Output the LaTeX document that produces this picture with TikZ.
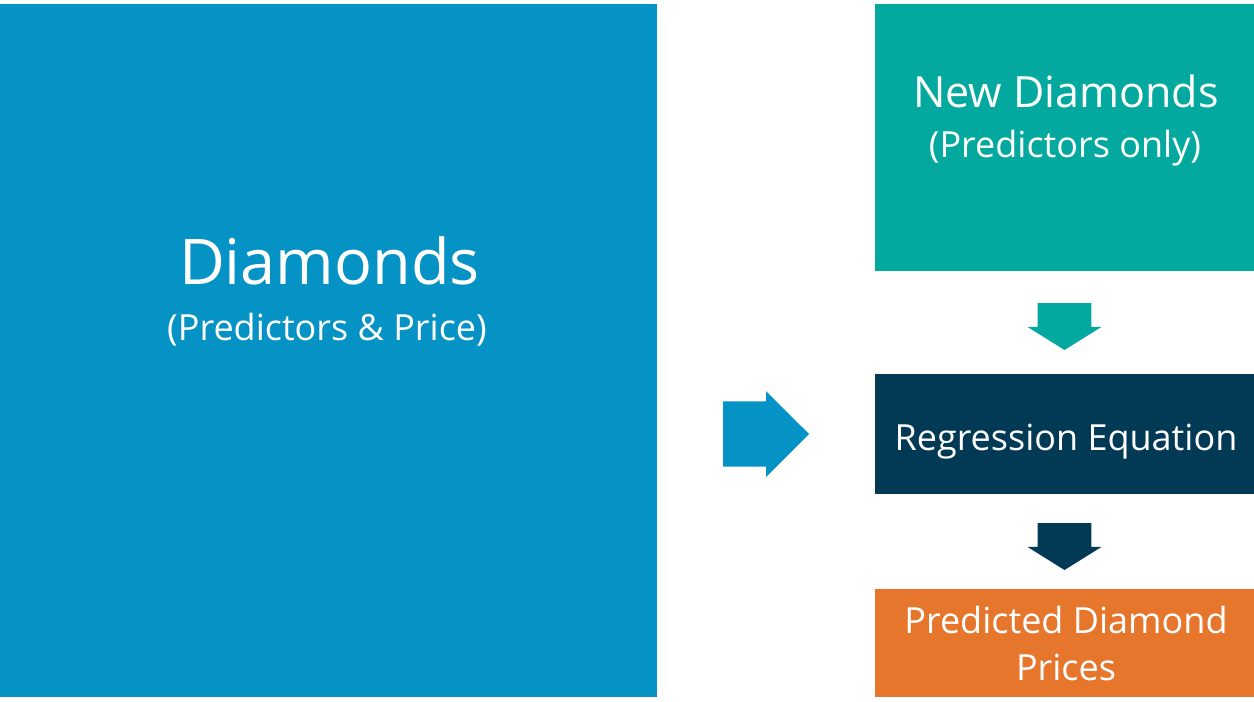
\documentclass[tikz,border=0pt]{standalone}
\usepackage{fontspec}
\setmainfont{Open Sans}
\usetikzlibrary{positioning}
\usetikzlibrary{calc}
\usetikzlibrary{shapes.arrows}
\definecolor{diablue}{RGB}{5,147,198}
\definecolor{newteal}{RGB}{3,168,158}
\definecolor{eqnavy}{RGB}{2,57,85}
\definecolor{priceorange}{RGB}{230,118,44}
\tikzset{box/.style = {rectangle, inner sep=0pt, outer sep=0pt}}
\tikzset{boxtext/.style = {text=white, anchor=base, inner sep=0pt}}
\tikzset{blockarrow/.style = {single arrow, inner xsep=0pt, outer sep=0pt,
                              single arrow head indent=0pt, anchor=tip}}
\newcommand{\bigfont}{\fontsize{63}{72}\selectfont}
\newcommand{\midfont}{\fontsize{43}{48}\selectfont}
\newcommand{\smallfont}{\fontsize{36}{47}\selectfont}

\begin{document}
\begin{tikzpicture}[x=1pt, y=-1pt]
    \useasboundingbox (0, 0) rectangle (1254, 702);
    % boxes
    \node [box, fill=diablue, minimum width=657pt, minimum height=693pt] (diamonds) at (328.5, 350.5) {};
    \node [box, fill=newteal, minimum width=379pt, minimum height=267pt] (newdia) at (1064.5, 137.5) {};
    \node [box, fill=eqnavy, minimum width=379pt, minimum height=120pt] (regeq) at (1064.5, 434) {};
    \node [box, fill=priceorange, minimum width=379pt, minimum height=108pt] (prices) at (1064.5, 643) {};
    % texts
    \node [boxtext, font=\bigfont] (diatitle) at (329.5, 284) {Diamonds};
    \node [boxtext, font=\smallfont] (diasub) at (327, 340) {(Predictors \& Price)};
    \node [boxtext, font=\midfont] (newtitle) at (1066, 107) {New Diamonds};
    \node [boxtext, font=\smallfont] (newsub) at (1065, 157) {(Predictors only)};
    \node [boxtext, font=\smallfont] (eqtitle) at (1066, 450) {Regression Equation};
    \node [boxtext, font=\smallfont] (pricetitle) at (1066, 633) {Predicted Diamond};
    \node [boxtext, font=\smallfont] (pricesub) at (1066, 680) {Prices};
    % arrows
    \node [blockarrow, fill=diablue, minimum height=86pt, minimum width=86pt, inner ysep=22pt]
      (toeq) at ($(regeq.west)+(-66, 0)$) {};
    \node [blockarrow, fill=newteal, rotate=-90, minimum height=47pt, minimum width=74pt,
           inner ysep=18.5pt, single arrow tip angle=116]
      (downone) at ($(regeq.north)+(0, -24)$) {};
    \node [blockarrow, fill=eqnavy, rotate=-90, minimum height=47pt, minimum width=74pt,
           inner ysep=18.5pt, single arrow tip angle=116]
      (downtwo) at ($(prices.north)+(0, -19)$) {};
\end{tikzpicture}
\end{document}
